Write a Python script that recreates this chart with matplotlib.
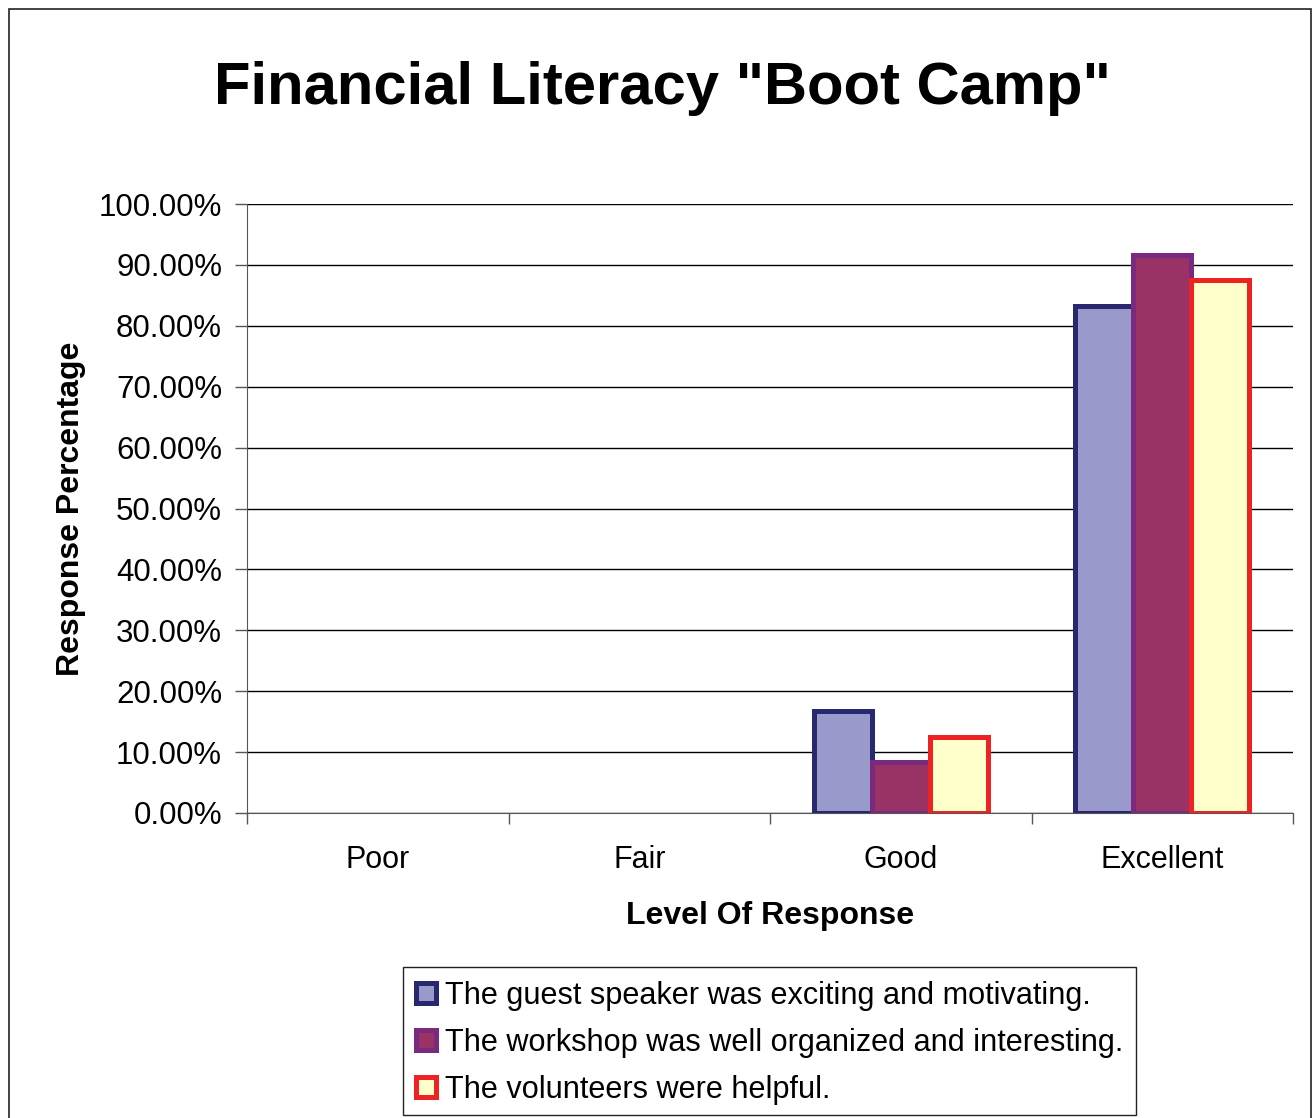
import numpy as np
import matplotlib
matplotlib.use("Agg")
import matplotlib.pyplot as plt
from matplotlib.patches import Rectangle
from matplotlib.ticker import FixedLocator, PercentFormatter

plt.rcParams['font.family'] = ['Liberation Sans', 'DejaVu Sans']

categories = ["Poor", "Fair", "Good", "Excellent"]
series_names = ["The guest speaker was exciting and motivating.",
                "The workshop was well organized and interesting.",
                "The volunteers were helpful."]
guest = [0, 0, 16.67, 83.33]
workshop = [0, 0, 8.33, 91.67]
volunteers = [0, 0, 12.5, 87.5]
values = [guest, workshop, volunteers]

faces = ["#9999CC", "#993366", "#FFFFCC"]
edges = ["#28286E", "#7A2A7E", "#EE2222"]

W, H = 1312, 1118
fig = plt.figure(figsize=(W / 100, H / 100), dpi=100)

# outer chart border (bottom edge runs off the image)
fig.patches.append(Rectangle((9 / W, -0.01), (1311 - 9) / W, 1 - 9 / H + 0.01,
                             transform=fig.transFigure, fill=False,
                             edgecolor="#222222", linewidth=1.2))

ax = fig.add_axes([247 / W, 1 - 813 / H, (1293 - 247) / W, (813 - 204) / H])

x = np.arange(len(categories))
bw = 0.222
for i, (vals, fc, ec) in enumerate(zip(values, faces, edges)):
    vals = np.array(vals)
    keep = vals > 0  # zero bars are not drawn in the original
    ax.bar(x[keep] + (i - 1) * bw, vals[keep], width=bw, color=fc, edgecolor=ec,
           linewidth=3.6, label=series_names[i], zorder=3)

ax.set_xlim(-0.5, 3.5)
ax.set_ylim(0, 100)
ax.yaxis.set_major_locator(FixedLocator(np.arange(0, 101, 10)))
ax.yaxis.set_major_formatter(PercentFormatter(decimals=2))
ax.grid(axis="y", color="black", linewidth=1.0, zorder=0)

ax.set_xticks(x)
ax.set_xticklabels(categories, fontsize=22)
ax.tick_params(axis="x", length=0, pad=23)
ax.xaxis.set_minor_locator(FixedLocator(np.arange(-0.5, 3.6, 1.0)))
ax.tick_params(axis="x", which="minor", length=8, color="#555555", width=1)
ax.tick_params(axis="y", labelsize=22.5, length=9, color="#555555", width=1, pad=9)

for s in ["top", "right"]:
    ax.spines[s].set_visible(False)
ax.spines["left"].set_color("#555555")
ax.spines["bottom"].set_color("#555555")

ax.set_xlabel("Level Of Response", fontsize=23, fontweight="bold", labelpad=19)
ax.set_ylabel("Response Percentage", fontsize=23, fontweight="bold", labelpad=9)

fig.text(662 / W, 1 - 89 / H, 'Financial Literacy "Boot Camp"', fontsize=43,
         fontweight="bold", ha="center", va="center")

# legend entries without frame, box drawn separately to match the original size
leg = fig.legend(loc="upper left", bbox_to_anchor=(403 / W, 1 - 968 / H),
                 fontsize=22.1, frameon=False,
                 handlelength=0.65, handleheight=0.65, handletextpad=0.3,
                 labelspacing=0.55, borderpad=0.42, borderaxespad=0)
fig.patches.append(Rectangle((403 / W, 1 - 1115 / H), (1136 - 403) / W, (1115 - 967) / H,
                             transform=fig.transFigure, fill=False,
                             edgecolor="#222222", linewidth=1.0))

fig.savefig("out.png", dpi=100)
